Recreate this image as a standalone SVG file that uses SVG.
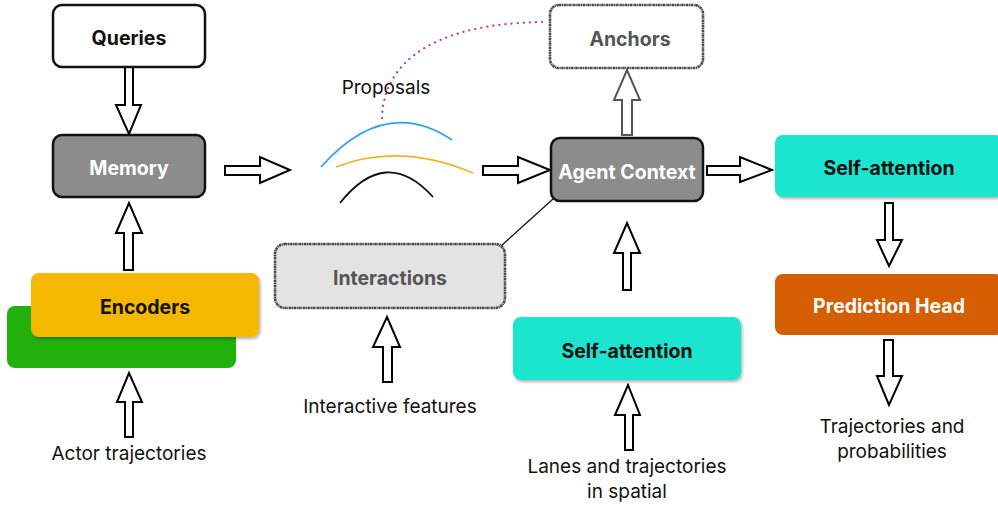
<svg xmlns="http://www.w3.org/2000/svg" width="998" height="506" viewBox="0 0 998 506">
  <defs>
    <filter id="shadow" x="-10%" y="-20%" width="125%" height="150%">
      <feDropShadow dx="1.5" dy="2" stdDeviation="1.5" flood-color="#000" flood-opacity="0.3"/>
    </filter>
    <style>
      text { font-family: Inter, "Open Sans", "Liberation Sans", sans-serif; text-anchor: middle; }
      .lbl { font-size: 19.5px; font-weight: bold; dominant-baseline: central; }
      .note { font-size: 19px; fill: #111; }
      .plain { fill: #fff; stroke: #111; stroke-width: 2.5; }
      .dark { fill: #8c8c8c; stroke: #111; stroke-width: 2.5; }
      .rough { stroke: #4a4a4a; stroke-width: 2.6; stroke-dasharray: 2.5 0.5 1.2 0.5; }
      .arrow { fill: #fff; stroke: #000; stroke-width: 2; stroke-linejoin: miter; }
      .arrow.grey { stroke: #555; }
    </style>
  </defs>

  <!-- connectors -->
  <g id="connectors">
    <path d="M382,118 C384,45 465,22 547,22" fill="none" stroke="#c23a85" stroke-width="2.2" stroke-dasharray="0.1 6" stroke-linecap="round"/>
    <line x1="553" y1="199" x2="501" y2="246" stroke="#111" stroke-width="1.3"/>
    <polygon class="arrow" points="125,67 133,67 133,105 141,105 129,134 116,105 125,105"/>
    <polygon class="arrow" points="124,270 133,270 133,233 142,233 129,203 116,233 124,233"/>
    <polygon class="arrow" points="125,437 133,437 133,402 142,402 129,373 117,402 125,402"/>
    <polygon class="arrow" points="225,166 260,166 260,157 290,170 260,183 260,175 225,175"/>
    <polygon class="arrow" points="483,166 518,166 518,157 550,170 518,183 518,175 483,175"/>
    <polygon class="arrow" points="707,166 740,166 740,157 772,170 740,182 740,175 707,175"/>
    <polygon class="arrow grey" points="622,135 632,135 632,100 640,100 627,70 614,100 622,100"/>
    <polygon class="arrow" points="623,290 631,290 631,253 640,253 627,223 614,253 623,253"/>
    <polygon class="arrow" points="625,450 633,450 633,415 640,415 628,385 615,415 625,415"/>
    <polygon class="arrow" points="383,382 392,382 392,347 400,347 387,317 373,347 383,347"/>
    <polygon class="arrow" points="885,203 893,203 893,240 902,240 889,266 877,240 885,240"/>
    <polygon class="arrow" points="884,340 893,340 893,376 902,376 889,405 877,376 884,376"/>
  </g>

  <!-- proposal trajectories -->
  <g id="proposals">
    <path d="M321,167 Q385,95 452,140" fill="none" stroke="#2ea3e8" stroke-width="1.8"/>
    <path d="M336,167 Q400,142 473,173" fill="none" stroke="#f0b429" stroke-width="1.8"/>
    <path d="M340,203 Q386,145 433,197" fill="none" stroke="#111" stroke-width="1.8"/>
    <text class="note" x="386" y="94">Proposals</text>
  </g>

  <g id="queries">
    <rect class="plain" x="53" y="5" width="152" height="62" rx="9"/>
    <text class="lbl" x="129" y="38" fill="#111">Queries</text>
  </g>

  <g id="memory">
    <rect class="dark" x="53" y="135" width="152" height="62" rx="9"/>
    <text class="lbl" x="129" y="168" fill="#fff">Memory</text>
  </g>

  <g id="encoders">
    <rect x="7" y="306" width="229" height="62" rx="8" fill="#22b00a"/>
    <rect x="31" y="273" width="228" height="64" rx="8" fill="#f5b800" filter="url(#shadow)"/>
    <text class="lbl" x="145" y="307" fill="#111">Encoders</text>
  </g>

  <g id="actor-trajectories">
    <text class="note" x="129" y="460">Actor trajectories</text>
  </g>

  <g id="anchors">
    <rect class="rough" x="550" y="5" width="153" height="63" rx="9" fill="#fff"/>
    <text class="lbl" x="630" y="39" fill="#555">Anchors</text>
  </g>

  <g id="agent-context">
    <rect class="dark" x="551" y="138" width="152" height="63" rx="9"/>
    <text class="lbl" x="627" y="172" fill="#fff">Agent Context</text>
  </g>

  <g id="interactions">
    <rect class="rough" x="275" y="244" width="230" height="64" rx="10" fill="#e3e3e3"/>
    <text class="lbl" x="390" y="278" fill="#555">Interactions</text>
  </g>

  <g id="interactive-features">
    <text class="note" x="390" y="413">Interactive features</text>
  </g>

  <g id="self-attention-spatial">
    <rect x="513" y="317" width="228" height="63" rx="8" fill="#1ce5cf" filter="url(#shadow)"/>
    <text class="lbl" x="627" y="351" fill="#111">Self-attention</text>
  </g>

  <g id="lanes">
    <text class="note" x="627" y="473">Lanes and trajectories</text>
    <text class="note" x="627" y="498">in spatial</text>
  </g>

  <g id="self-attention">
    <rect x="775" y="135" width="228" height="62" rx="8" fill="#1ce5cf" filter="url(#shadow)"/>
    <text class="lbl" x="889" y="168" fill="#111">Self-attention</text>
  </g>

  <g id="prediction-head">
    <rect x="775" y="274" width="228" height="61" rx="8" fill="#d45e00"/>
    <text class="lbl" x="889" y="306" fill="#fff">Prediction Head</text>
  </g>

  <g id="outputs">
    <text class="note" x="892" y="433">Trajectories and</text>
    <text class="note" x="892" y="458">probabilities</text>
  </g>
</svg>
